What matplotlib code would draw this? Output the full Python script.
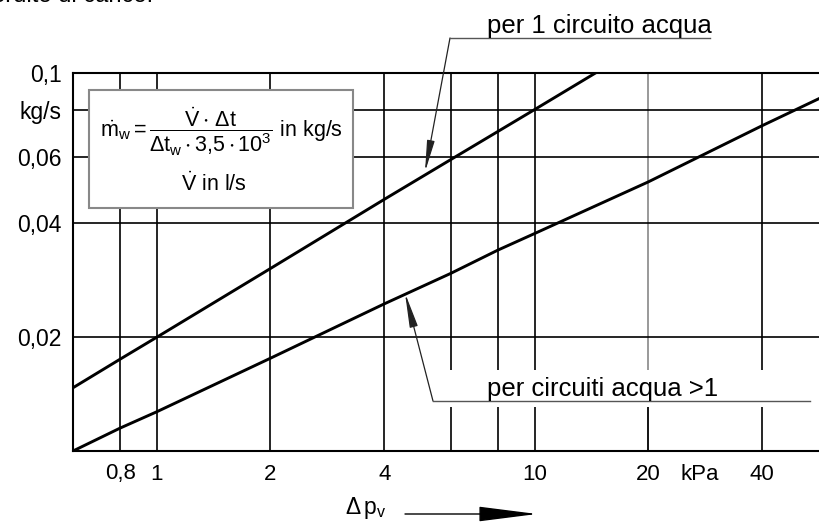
import matplotlib.pyplot as plt
from matplotlib.patches import Rectangle, FancyArrowPatch, ArrowStyle
from matplotlib.lines import Line2D
from matplotlib.ticker import NullLocator

plt.rcParams['font.family'] = ['Liberation Sans', 'DejaVu Sans']
plt.rcParams['mathtext.fontset'] = 'custom'
plt.rcParams['mathtext.rm'] = 'Liberation Sans'
plt.rcParams['mathtext.it'] = 'Liberation Sans'
plt.rcParams['mathtext.default'] = 'regular'

# pressure drop (kPa) vs water mass flow (kg/s)
dp_1 = [0.6, 0.8, 1, 2, 4, 6, 10, 14.5]
m_1 = [0.0147, 0.0175, 0.020, 0.0304, 0.0463, 0.059, 0.080, 0.100]
dp_n = [0.6, 0.8, 1, 2, 4, 6, 8, 10, 20, 40, 57]
m_n = [0.0100, 0.0115, 0.0127, 0.0176, 0.0245, 0.0295, 0.034, 0.0376, 0.0515, 0.0725, 0.0858]

x_grid = [0.8, 1, 2, 4, 6, 8, 10, 20, 40]
y_grid = [0.02, 0.04, 0.06, 0.08]
x_ticks = [0.8, 1, 2, 4, 10, 20, 40]
x_labels = ['0,8', '1', '2', '4', '10', '20', '40']
y_ticks = [0.02, 0.04, 0.06, 0.08, 0.1]
y_labels = ['0,02', '0,04', '0,06', 'kg/s', '0,1']

W, H = 820, 524


def px(x, y):
    return x / W, 1 - y / H


fig = plt.figure(figsize=(8.2, 5.24), dpi=100)
ax = fig.add_axes([73 / W, 1 - 451 / H, 1 - 73 / W, (451 - 73) / H])
ax.set_xscale('log')
ax.set_yscale('log')
ax.set_xlim(0.6, 57)
ax.set_ylim(0.01, 0.1)

for v in x_grid:
    ax.axvline(v, color='#888888' if v == 20 else 'k', lw=1.2, zorder=1)
ax.axvline(20, ymax=0.116, color='k', lw=1.2, zorder=1)
for v in y_grid:
    ax.axhline(v, color='k', lw=1.2, zorder=1)

ax.plot(dp_1, m_1, color='k', lw=2.1, zorder=3)
ax.plot(dp_n, m_n, color='k', lw=2.1, zorder=3)

ax.xaxis.set_minor_locator(NullLocator())
ax.yaxis.set_minor_locator(NullLocator())
ax.set_xticks(x_ticks)
ax.set_xticklabels(x_labels)
ax.set_yticks(y_ticks)
ax.set_yticklabels(y_labels)
ax.tick_params(axis='x', length=0, pad=9, labelsize=16)
ax.tick_params(axis='y', length=0, pad=8, labelsize=16.5)
ax.spines['right'].set_visible(False)
for s in ['left', 'top', 'bottom']:
    ax.spines[s].set_linewidth(1.5)

fig.text(*px(700, 474), 'kPa', ha='center', va='center', fontsize=16)

# white gap behind the lower label
ax.add_patch(Rectangle(px(440, 407), (815 - 440) / W, (407 - 370) / H,
                       transform=fig.transFigure, fc='white', ec='none', zorder=2))

# formula box
ax.add_patch(Rectangle(px(89, 208), (353 - 89) / W, (208 - 90) / H,
                       transform=fig.transFigure, fc='white', ec='#888888', lw=1.5, zorder=4))
fig.text(*px(221, 132),
         r'$\dot{m}_w = \dfrac{\dot{V}\cdot\,\Delta t}{\Delta t_w\cdot 3{,}5\cdot 10^3}$ in kg/s',
         ha='center', va='center', fontsize=15.5)
fig.text(*px(214, 184), r'$\dot{V}$ in l/s', ha='center', va='center', fontsize=15.5)

# partially visible text at top
fig.text(*px(153, 2), 'perdite di carico:', ha='right', va='baseline', fontsize=17)

# labels with leader arrows
fig.text(*px(487, 33), 'per 1 circuito acqua', ha='left', va='baseline', fontsize=18.5)
fig.add_artist(Line2D([450 / W, 710 / W], [1 - 38 / H, 1 - 38 / H],
                      transform=fig.transFigure, color='#555555', lw=1))
fig.add_artist(FancyArrowPatch(px(450, 38), px(425, 172), transform=fig.transFigure,
                               arrowstyle=ArrowStyle('-|>', head_length=19, head_width=2.3),
                               shrinkA=0, shrinkB=0, color='#222222', lw=0.9))

fig.text(*px(487, 396), 'per circuiti acqua >1', ha='left', va='baseline', fontsize=18.5)
fig.add_artist(Line2D([433 / W, 810 / W], [1 - 401 / H, 1 - 401 / H],
                      transform=fig.transFigure, color='#555555', lw=1))
fig.add_artist(FancyArrowPatch(px(433, 401), px(405, 293), transform=fig.transFigure,
                               arrowstyle=ArrowStyle('-|>', head_length=21, head_width=2.5),
                               shrinkA=0, shrinkB=0, color='#222222', lw=0.9))

# axis label with arrow
fig.text(*px(366, 508), r'$\Delta\,p_v$', ha='center', va='center', fontsize=16.5)
fig.add_artist(FancyArrowPatch(px(405, 514), px(537, 514), transform=fig.transFigure,
                               arrowstyle=ArrowStyle('-|>', head_length=37, head_width=4.7),
                               shrinkA=0, shrinkB=0, color='k', lw=1))

fig.savefig('out.png', dpi=100)
